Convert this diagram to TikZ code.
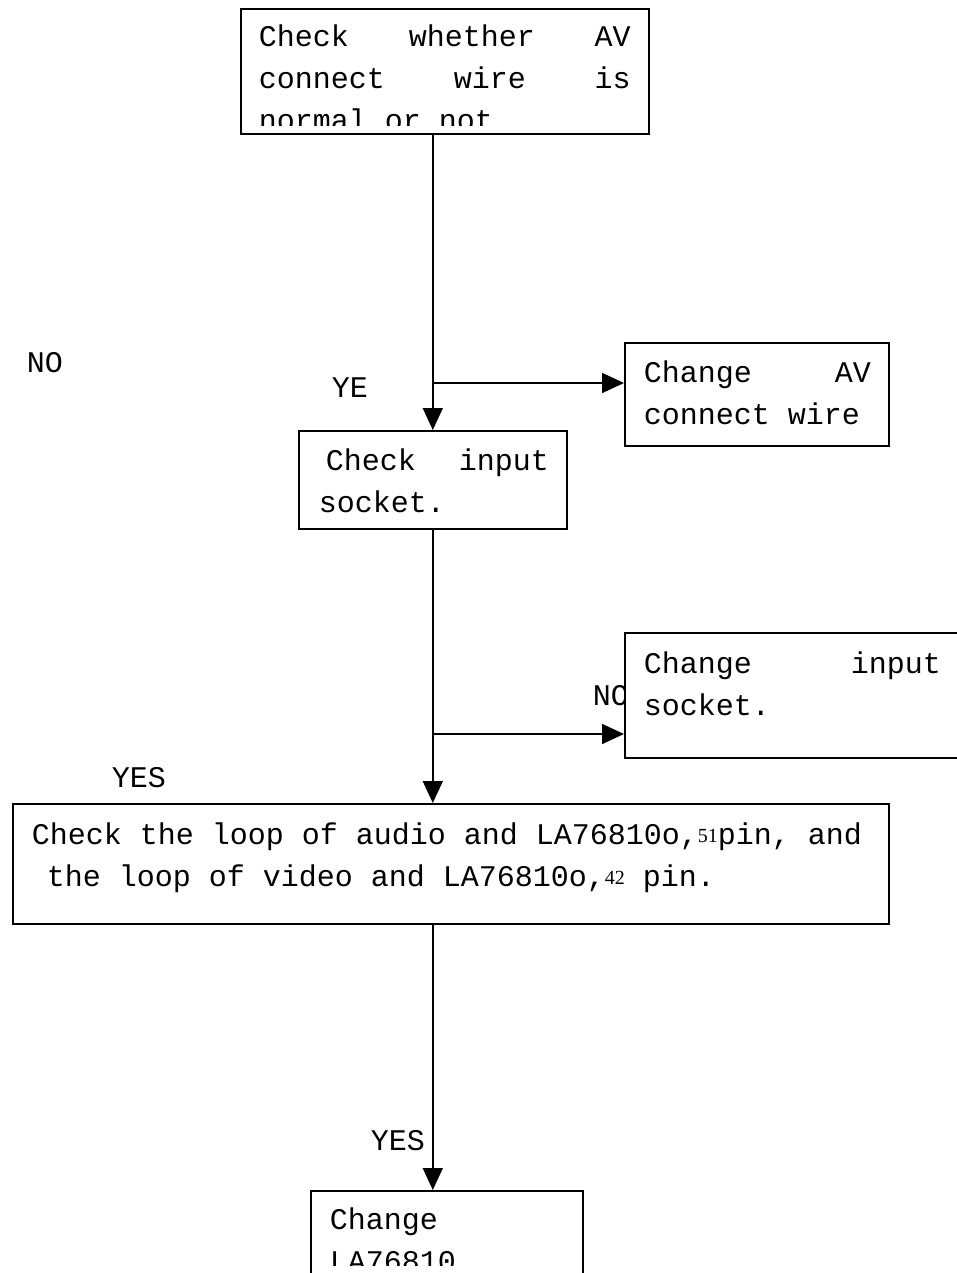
\documentclass[tikz,border=0pt]{standalone}
\usepackage{fontspec}
\setmainfont{Liberation Mono}
\newfontfamily\numfont{Liberation Serif}
\usetikzlibrary{positioning, arrows.meta}
\newcommand{\jline}[1]{\hbox to \linewidth{#1}}
\newcommand{\pinno}[1]{\raisebox{1.5pt}{\numfont\fontsize{20}{20}\selectfont #1}}

\begin{document}
\fontsize{30}{42}\selectfont
\begin{tikzpicture}[x=1pt, y=-1pt, line width=1.6pt,
    flujo/.style={-{Triangle[length=22pt,width=20pt]}},
    caja/.style={draw, fill=white, anchor=north west, inner sep=0pt},
    texto/.style={anchor=base west, inner sep=0pt}]
    \useasboundingbox (0,0) rectangle (957,1273);

    % Etiquetas sueltas (una queda tapada por la caja).
    \node[texto] (no1) at (26,372) {NO};
    \node[texto] (ye) at (331,397) {YE};
    \node[texto] (no2) at (592,705) {NO};
    \node[texto] (yes1) at (111,787) {YES};
    \node[texto] (yes2) at (370,1150) {YES};

    % Cajas del diagrama.
    \node[caja, minimum width=408pt, minimum height=125pt] (aviso) at (240,8) {};
    \begin{scope}
        \clip (240,8) rectangle (648,126);
        \node[texto] (avisotxt) at (258,47) {\parbox[t]{372pt}{%
            \jline{Check\hfill whether\hfill AV}%
            \jline{connect\hfill wire\hfill is}%
            \jline{normal or not\hfill}}};
    \end{scope}
    \node[caja, minimum width=264pt, minimum height=103pt] (cambiarav) at (624,342) {};
    \node[texto] (cambiaravtxt) at (643,382) {\parbox[t]{227pt}{%
        \jline{Change\hfill AV}%
        \jline{connect wire\hfill}}};
    \node[caja, minimum width=268pt, minimum height=98pt] (entrada) at (298,430) {};
    \node[texto] (entradatxt) at (318,470) {\parbox[t]{230pt}{%
        \jline{\hspace*{7pt}Check\hfill input}%
        \jline{socket.\hfill}}};
    \node[caja, minimum width=360pt, minimum height=125pt] (cambiarent) at (624,632) {};
    \node[texto] (cambiarenttxt) at (643,673) {\parbox[t]{297pt}{%
        \jline{Change\hfill input}%
        \jline{socket.\hfill}}};
    \node[caja, minimum width=876pt, minimum height=120pt] (bucle) at (12,803) {};
    \node[texto] (bucletxt) at (31,844) {\parbox[t]{850pt}{%
        \jline{Check the loop of audio and LA76810o,\pinno{51}pin, and\hfill}%
        \jline{\hspace*{15pt}the loop of video and LA76810o,\pinno{42} pin.\hfill}}};
    \node[caja, minimum width=272pt, minimum height=100pt] (cambiarla) at (310,1190) {};
    \begin{scope}
        \clip (310,1190) rectangle (582,1265);
        \node[texto] (cambiarlatxt) at (329,1229) {\parbox[t]{240pt}{%
            \jline{Change\hfill}%
            \jline{LA76810\hfill}}};
    \end{scope}

    % Flechas entre cajas.
    \coordinate (b1) at (432,383);
    \coordinate (b2) at (432,734);
    \draw[flujo] (entrada.north |- aviso.south) -- (entrada.north);
    \draw[flujo] (b1) -- (b1 -| cambiarav.west);
    \draw[flujo] (entrada.south) -- (entrada.south |- bucle.north);
    \draw[flujo] (b2) -- (b2 -| cambiarent.west);
    \draw[flujo] (entrada.south |- bucle.south) -- (entrada.south |- cambiarla.north);
\end{tikzpicture}
\end{document}
